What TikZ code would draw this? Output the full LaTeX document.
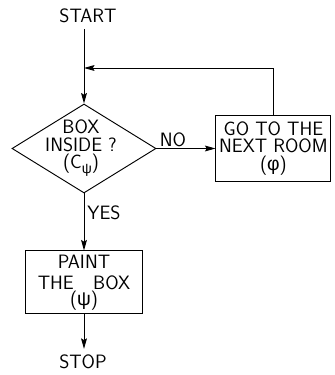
\documentclass[tikz,border=0pt]{standalone}
\usepackage{fontspec}
\usepackage{tikz}
\usetikzlibrary{arrows.meta,positioning,shapes.geometric}
\newfontfamily\grk{Liberation Sans}
\tikzset{
  lbl/.style={font=\sffamily\fontsize{16.5}{15}\selectfont,inner sep=0pt},
  term/.style={lbl,inner sep=5pt},
  % boxes for the actions, diamond for the test
  task/.style={rectangle,draw,line width=0.8pt,align=center,inner sep=0pt,
    font=\sffamily\fontsize{16.5}{15}\selectfont},
  test/.style={diamond,draw,line width=0.8pt,inner sep=0pt,
    minimum width=4.32cm,minimum height=2.67cm},
  arr/.style={-{Stealth[length=9pt,width=5pt,inset=1.5pt]},line width=0.8pt}
}
\newcommand{\subpsi}{\raisebox{-3.5pt}{\fontsize{12}{12}\selectfont\grk ψ}}

\begin{document}
\begin{tikzpicture}[x=0.03cm,y=-0.03cm]
  \useasboundingbox (0,0) rectangle (334,375);
  \node[term] (start) at (88,16) {START};
  \node[test] (ask) at (84,148.5) {};
  \node[lbl,align=center] (asktxt) at (81,148) {BOX\\INSIDE ?\\(C\subpsi)};
  \node[task,minimum width=3.45cm,minimum height=1.98cm,right=1.77cm of ask] (room)
    {GO TO THE\\NEXT ROOM\\({\grk φ})};
  \node[task,minimum width=3.51cm,minimum height=1.89cm,below=1.71cm of ask] (paint)
    {PAINT\\[3pt]THE\quad BOX\\[-1.2pt]({\grk ψ})};
  \node[term] (stop) at (83,362) {STOP};
  \coordinate (join) at (84,68);
  \node[lbl] (no) at (173,140) {NO};
  \node[lbl] (yes) at (104,213) {YES};
  \draw[arr] (start.south -| ask.north) -- (ask.north);
  \draw[arr] (room.north) |- (join);
  \draw[arr] (ask.east) -- (ask.east -| room.west);
  \draw[arr] (ask.south) -- (paint.north);
  \draw[arr] (paint.south) -- (paint.south |- stop.north);
\end{tikzpicture}
\end{document}
